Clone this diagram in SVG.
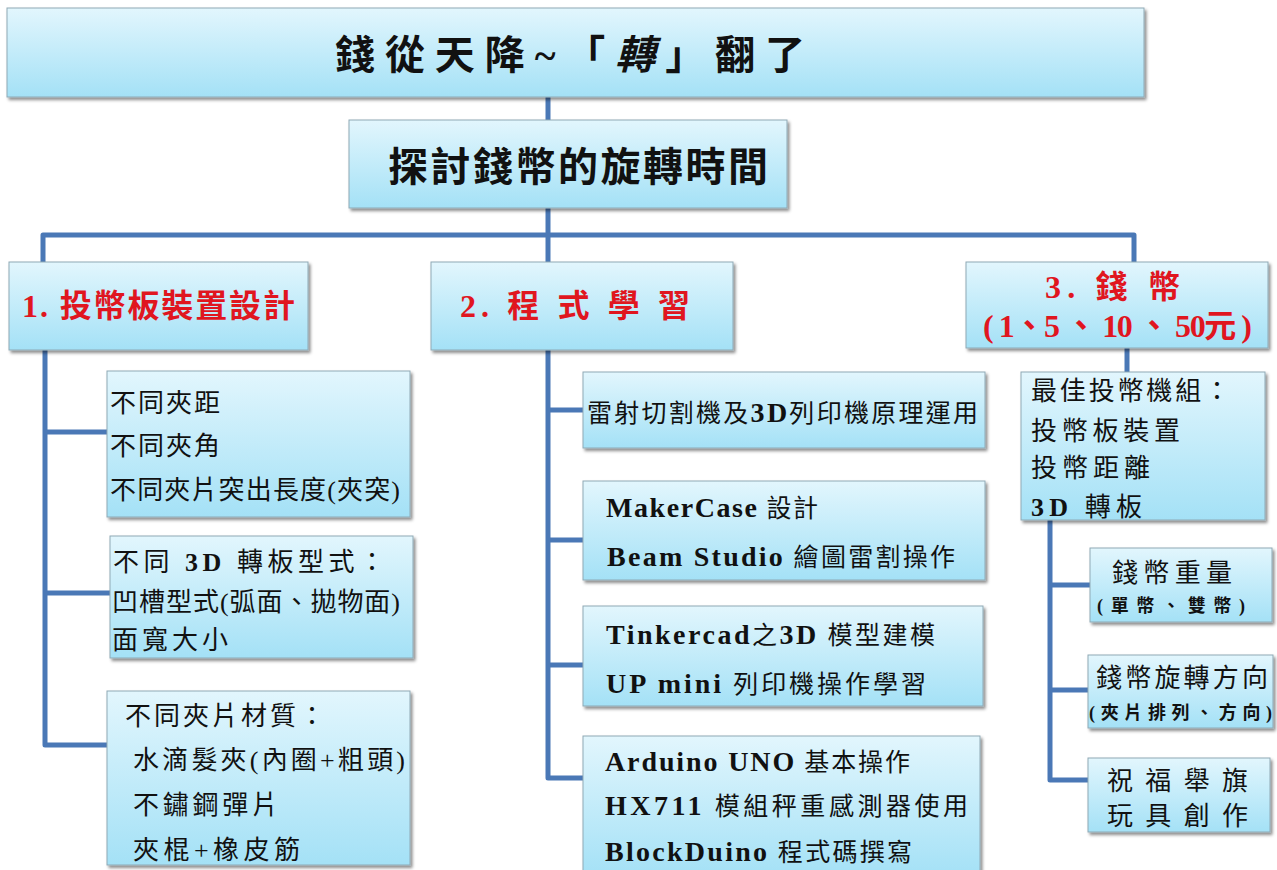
<svg xmlns="http://www.w3.org/2000/svg" width="1277" height="870" viewBox="0 0 1277 870">
<defs>
<linearGradient id="g" x1="0" y1="0" x2="0" y2="1">
<stop offset="0" stop-color="#e2f6fd"/>
<stop offset="1" stop-color="#a4e1f6"/>
</linearGradient>
<filter id="sh" x="-5%" y="-5%" width="110%" height="120%">
<feDropShadow dx="2" dy="2.5" stdDeviation="1.5" flood-color="#000" flood-opacity="0.45"/>
</filter>
</defs>
<style>
.box{fill:url(#g);stroke:#8fa9b5;stroke-width:1;filter:url(#sh)}
.c{fill:none;stroke:#4a78b6;stroke-width:5;stroke-linejoin:round;stroke-linecap:butt}
text{font-family:"Liberation Serif","Noto Sans CJK TC",serif;fill:#111}
.t{font-size:40px;font-weight:bold}
.h{font-size:32px;font-weight:bold;fill:#e0161f}
.s{font-size:26px}
.m{font-size:25px}
.b{font-weight:bold}
.m .b{font-size:28px}
.sm{font-size:18px;font-weight:bold}
</style>
<rect width="1277" height="870" fill="#fff"/>
<g id="connectors">
<path class="c" d="M548,97 V120"/>
<path class="c" d="M548,208 V262"/>
<path class="c" d="M43,262 V235 H1134 V262"/>
<path class="c" d="M45,350 V745 H107 M45,432 H107 M45,593 H110"/>
<path class="c" d="M548,350 V778 H583 M548,410 H583 M548,540 H583 M548,665 H583"/>
<path class="c" d="M1127,348 V372"/>
<path class="c" d="M1050,520 V780 H1088 M1050,585 H1090 M1050,690 H1088"/>
</g>
<g id="title">
<rect class="box" x="7" y="8" width="1137" height="89"/>
<text class="t" x="335" y="69" textLength="470" lengthAdjust="spacing">錢從天降~「<tspan font-style="italic">轉</tspan>」翻了</text>
</g>
<g id="subtitle">
<rect class="box" x="349" y="120" width="438" height="88"/>
<text class="t" x="388" y="181" textLength="380" lengthAdjust="spacing">探討錢幣的旋轉時間</text>
</g>
<g id="cat1">
<rect class="box" x="9" y="262" width="299" height="88"/>
<text class="h" x="22" y="317" textLength="273" lengthAdjust="spacing">1. 投幣板裝置設計</text>
</g>
<g id="cat2">
<rect class="box" x="431" y="262" width="302" height="88"/>
<text class="h" x="460" y="317" textLength="230" lengthAdjust="spacing">2. 程 式 學 習</text>
</g>
<g id="cat3">
<rect class="box" x="966" y="262" width="302" height="86"/>
<text class="h" x="1045" y="298" font-size="27" textLength="135" lengthAdjust="spacing">3.  錢 幣</text>
<text class="h" x="983" y="337" font-size="25" textLength="269" lengthAdjust="spacing">( 1、5 、 10 、 50元 )</text>
</g>
<g id="l1">
<rect class="box" x="107" y="371" width="303" height="146"/>
<text class="s" x="110" y="412" textLength="110" lengthAdjust="spacing">不同夾距</text>
<text class="s" x="110" y="455" textLength="110" lengthAdjust="spacing">不同夾角</text>
<text class="s" x="110" y="499" textLength="290" lengthAdjust="spacing">不同夾片突出長度(夾突)</text>
</g>
<g id="l2">
<rect class="box" x="110" y="536" width="303" height="122"/>
<text class="s" x="113" y="571" textLength="272" lengthAdjust="spacing">不同 <tspan class="b">3D</tspan> 轉板型式：</text>
<text class="s" x="112" y="611" textLength="288" lengthAdjust="spacing">凹槽型式(弧面、拋物面)</text>
<text class="s" x="112" y="649" textLength="116" lengthAdjust="spacing">面寬大小</text>
</g>
<g id="l3">
<rect class="box" x="107" y="691" width="303" height="174"/>
<text class="s" x="125" y="725" textLength="200" lengthAdjust="spacing">不同夾片材質：</text>
<text class="s" x="133" y="769" textLength="272" lengthAdjust="spacing">水滴髮夾(內圈+粗頭)</text>
<text class="s" x="133" y="814" textLength="145" lengthAdjust="spacing">不鏽鋼彈片</text>
<text class="s" x="133" y="859" textLength="167" lengthAdjust="spacing">夾棍+橡皮筋</text>
</g>
<g id="m1">
<rect class="box" x="583" y="372" width="402" height="76"/>
<text class="m" x="587" y="422" textLength="391" lengthAdjust="spacing">雷射切割機及<tspan class="b">3D</tspan>列印機原理運用</text>
</g>
<g id="m2">
<rect class="box" x="583" y="481" width="402" height="99"/>
<text class="m" x="606" y="517" textLength="212" lengthAdjust="spacing"><tspan class="b">MakerCase</tspan> 設計</text>
<text class="m" x="607" y="566" textLength="348" lengthAdjust="spacing"><tspan class="b">Beam Studio</tspan> 繪圖雷割操作</text>
</g>
<g id="m3">
<rect class="box" x="583" y="606" width="400" height="100"/>
<text class="m" x="606" y="644" textLength="329" lengthAdjust="spacing"><tspan class="b">Tinkercad</tspan>之<tspan class="b">3D</tspan> 模型建模</text>
<text class="m" x="606" y="693" textLength="320" lengthAdjust="spacing"><tspan class="b">UP mini</tspan> 列印機操作學習</text>
</g>
<g id="m4">
<rect class="box" x="583" y="736" width="397" height="140"/>
<text class="m" x="605" y="771" textLength="305" lengthAdjust="spacing"><tspan class="b">Arduino UNO</tspan> 基本操作</text>
<text class="m" x="605" y="815" textLength="363" lengthAdjust="spacing"><tspan class="b">HX711</tspan> 模組秤重感測器使用</text>
<text class="m" x="605" y="861" textLength="307" lengthAdjust="spacing"><tspan class="b">BlockDuino</tspan> 程式碼撰寫</text>
</g>
<g id="r0">
<rect class="box" x="1021" y="372" width="244" height="148"/>
<text class="s" x="1031" y="400" textLength="199" lengthAdjust="spacing">最佳投幣機組：</text>
<text class="s" x="1031" y="440" textLength="149" lengthAdjust="spacing">投幣板裝置</text>
<text class="s" x="1031" y="477" textLength="119" lengthAdjust="spacing">投幣距離</text>
<text class="s" x="1031" y="516" textLength="111" lengthAdjust="spacing"><tspan class="b">3D</tspan>  轉板</text>
</g>
<g id="r1">
<rect class="box" x="1090" y="548" width="182" height="74"/>
<text class="s" x="1112" y="582" textLength="120" lengthAdjust="spacing">錢幣重量</text>
<text class="sm" x="1097" y="612" textLength="148" lengthAdjust="spacing">(單幣、雙幣)</text>
</g>
<g id="r2">
<rect class="box" x="1088" y="655" width="185" height="73"/>
<text class="s" x="1096" y="687" textLength="172" lengthAdjust="spacing">錢幣旋轉方向</text>
<text class="sm" x="1089" y="719" textLength="183" lengthAdjust="spacing">(夾片排列、方向)</text>
</g>
<g id="r3">
<rect class="box" x="1088" y="758" width="182" height="74"/>
<text class="s" x="1107" y="790" font-size="27" textLength="141" lengthAdjust="spacing">祝 福 舉 旗</text>
<text class="s" x="1107" y="825" font-size="27" textLength="141" lengthAdjust="spacing">玩 具 創 作</text>
</g>
</svg>
